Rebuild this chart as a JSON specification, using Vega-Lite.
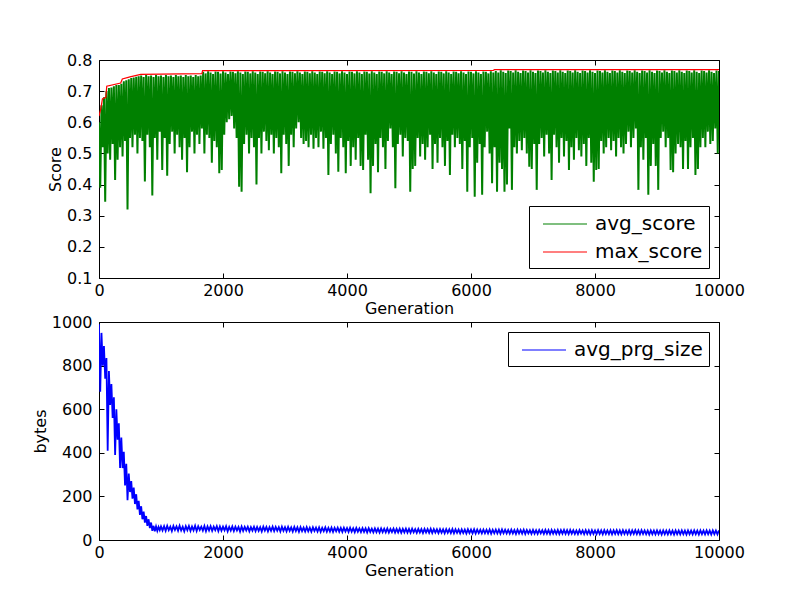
{
"$schema": "https://vega.github.io/schema/vega-lite/v6.json",
"padding": {"left": 31, "top": 51, "right": 10, "bottom": 10},
"background": "white",
"config": {
 "font": "DejaVu Sans",
 "view": {"stroke": "black", "strokeWidth": 1},
 "axis": {"grid": false, "domain": false, "tickColor": "black", "tickSize": -5, "labelFlush": false, "labelFont": "DejaVu Sans", "labelFontSize": 16, "labelColor": "black", "titleFont": "DejaVu Sans", "titleFontSize": 16, "titleFontWeight": "normal", "titleColor": "black"},
 "axisX": {"titlePadding": 2, "labelPadding": 9},
 "axisY": {"titlePadding": 3, "labelPadding": 12},
 "legend": {"strokeColor": "black", "fillColor": "white", "padding": 6, "offset": 10, "cornerRadius": 0, "symbolType": "M-2,0H2", "symbolSize": 484, "symbolStrokeWidth": 1.2, "symbolOffset": 18, "labelOffset": 18, "labelFont": "DejaVu Sans", "labelFontSize": 20, "labelColor": "black", "rowPadding": 6, "labelLimit": 300}
},
"datasets": {
"score": [{"g":0,"s":0.60},{"g":20,"s":0.39},{"g":40,"s":0.655},{"g":60,"s":0.52},{"g":80,"s":0.68},{"g":100,"s":0.345},{"g":120,"s":0.70},{"g":140,"s":0.50},{"g":160,"s":0.71},{"g":180,"s":0.48},{"g":200,"s":0.712},{"g":220,"s":0.53},{"g":240,"s":0.716},{"g":260,"s":0.415},{"g":280,"s":0.72},{"g":300,"s":0.48},{"g":320,"s":0.72},{"g":340,"s":0.52},{"g":360,"s":0.724},{"g":380,"s":0.49},{"g":400,"s":0.732},{"g":420,"s":0.54},{"g":440,"s":0.735},{"g":460,"s":0.32},{"g":480,"s":0.738},{"g":500,"s":0.55},{"g":520,"s":0.742},{"g":540,"s":0.52},{"g":560,"s":0.744},{"g":580,"s":0.56},{"g":600,"s":0.746},{"g":620,"s":0.50},{"g":640,"s":0.748},{"g":660,"s":0.55},{"g":680,"s":0.75},{"g":700,"s":0.54},{"g":720,"s":0.745},{"g":740,"s":0.41},{"g":760,"s":0.752},{"g":780,"s":0.56},{"g":800,"s":0.748},{"g":820,"s":0.52},{"g":840,"s":0.75},{"g":860,"s":0.365},{"g":880,"s":0.745},{"g":900,"s":0.55},{"g":920,"s":0.752},{"g":940,"s":0.48},{"g":960,"s":0.748},{"g":980,"s":0.57},{"g":1000,"s":0.75},{"g":1020,"s":0.447},{"g":1040,"s":0.745},{"g":1060,"s":0.55},{"g":1080,"s":0.752},{"g":1100,"s":0.428},{"g":1120,"s":0.748},{"g":1140,"s":0.53},{"g":1160,"s":0.75},{"g":1180,"s":0.57},{"g":1200,"s":0.745},{"g":1220,"s":0.50},{"g":1240,"s":0.752},{"g":1260,"s":0.56},{"g":1280,"s":0.748},{"g":1300,"s":0.52},{"g":1320,"s":0.75},{"g":1340,"s":0.48},{"g":1360,"s":0.745},{"g":1380,"s":0.55},{"g":1400,"s":0.752},{"g":1420,"s":0.44},{"g":1440,"s":0.748},{"g":1460,"s":0.52},{"g":1480,"s":0.75},{"g":1500,"s":0.57},{"g":1520,"s":0.745},{"g":1540,"s":0.50},{"g":1560,"s":0.752},{"g":1580,"s":0.56},{"g":1600,"s":0.748},{"g":1620,"s":0.53},{"g":1640,"s":0.75},{"g":1660,"s":0.58},{"g":1680,"s":0.762},{"g":1700,"s":0.50},{"g":1720,"s":0.757},{"g":1740,"s":0.56},{"g":1760,"s":0.764},{"g":1780,"s":0.55},{"g":1800,"s":0.76},{"g":1820,"s":0.47},{"g":1840,"s":0.755},{"g":1860,"s":0.54},{"g":1880,"s":0.763},{"g":1900,"s":0.52},{"g":1920,"s":0.762},{"g":1940,"s":0.436},{"g":1960,"s":0.757},{"g":1980,"s":0.447},{"g":2000,"s":0.764},{"g":2020,"s":0.56},{"g":2040,"s":0.76},{"g":2060,"s":0.60},{"g":2080,"s":0.755},{"g":2100,"s":0.61},{"g":2120,"s":0.763},{"g":2140,"s":0.62},{"g":2160,"s":0.762},{"g":2180,"s":0.58},{"g":2200,"s":0.757},{"g":2220,"s":0.55},{"g":2240,"s":0.764},{"g":2260,"s":0.393},{"g":2280,"s":0.76},{"g":2300,"s":0.377},{"g":2320,"s":0.755},{"g":2340,"s":0.53},{"g":2360,"s":0.763},{"g":2380,"s":0.56},{"g":2400,"s":0.762},{"g":2420,"s":0.50},{"g":2440,"s":0.757},{"g":2460,"s":0.55},{"g":2480,"s":0.764},{"g":2500,"s":0.52},{"g":2520,"s":0.76},{"g":2540,"s":0.40},{"g":2560,"s":0.755},{"g":2580,"s":0.55},{"g":2600,"s":0.763},{"g":2620,"s":0.50},{"g":2640,"s":0.762},{"g":2660,"s":0.57},{"g":2680,"s":0.757},{"g":2700,"s":0.54},{"g":2720,"s":0.764},{"g":2740,"s":0.51},{"g":2760,"s":0.76},{"g":2780,"s":0.56},{"g":2800,"s":0.755},{"g":2820,"s":0.50},{"g":2840,"s":0.763},{"g":2860,"s":0.55},{"g":2880,"s":0.762},{"g":2900,"s":0.52},{"g":2920,"s":0.757},{"g":2940,"s":0.436},{"g":2960,"s":0.764},{"g":2980,"s":0.56},{"g":3000,"s":0.76},{"g":3020,"s":0.53},{"g":3040,"s":0.755},{"g":3060,"s":0.46},{"g":3080,"s":0.763},{"g":3100,"s":0.56},{"g":3120,"s":0.762},{"g":3140,"s":0.52},{"g":3160,"s":0.757},{"g":3180,"s":0.58},{"g":3200,"s":0.764},{"g":3220,"s":0.60},{"g":3240,"s":0.76},{"g":3260,"s":0.55},{"g":3280,"s":0.755},{"g":3300,"s":0.53},{"g":3320,"s":0.763},{"g":3340,"s":0.54},{"g":3360,"s":0.762},{"g":3380,"s":0.52},{"g":3400,"s":0.757},{"g":3420,"s":0.56},{"g":3440,"s":0.764},{"g":3460,"s":0.515},{"g":3480,"s":0.76},{"g":3500,"s":0.55},{"g":3520,"s":0.755},{"g":3540,"s":0.52},{"g":3560,"s":0.763},{"g":3580,"s":0.57},{"g":3600,"s":0.762},{"g":3620,"s":0.515},{"g":3640,"s":0.757},{"g":3660,"s":0.55},{"g":3680,"s":0.764},{"g":3700,"s":0.431},{"g":3720,"s":0.76},{"g":3740,"s":0.53},{"g":3760,"s":0.755},{"g":3780,"s":0.56},{"g":3800,"s":0.763},{"g":3820,"s":0.50},{"g":3840,"s":0.762},{"g":3860,"s":0.441},{"g":3880,"s":0.757},{"g":3900,"s":0.55},{"g":3920,"s":0.764},{"g":3940,"s":0.52},{"g":3960,"s":0.76},{"g":3980,"s":0.436},{"g":4000,"s":0.755},{"g":4020,"s":0.54},{"g":4040,"s":0.763},{"g":4060,"s":0.46},{"g":4080,"s":0.762},{"g":4100,"s":0.52},{"g":4120,"s":0.757},{"g":4140,"s":0.48},{"g":4160,"s":0.764},{"g":4180,"s":0.55},{"g":4200,"s":0.76},{"g":4220,"s":0.46},{"g":4240,"s":0.755},{"g":4260,"s":0.447},{"g":4280,"s":0.763},{"g":4300,"s":0.56},{"g":4320,"s":0.762},{"g":4340,"s":0.48},{"g":4360,"s":0.757},{"g":4380,"s":0.372},{"g":4400,"s":0.764},{"g":4420,"s":0.46},{"g":4440,"s":0.76},{"g":4460,"s":0.53},{"g":4480,"s":0.755},{"g":4500,"s":0.44},{"g":4520,"s":0.763},{"g":4540,"s":0.55},{"g":4560,"s":0.762},{"g":4580,"s":0.52},{"g":4600,"s":0.757},{"g":4620,"s":0.45},{"g":4640,"s":0.764},{"g":4660,"s":0.54},{"g":4680,"s":0.76},{"g":4700,"s":0.58},{"g":4720,"s":0.755},{"g":4740,"s":0.52},{"g":4760,"s":0.763},{"g":4780,"s":0.388},{"g":4800,"s":0.762},{"g":4820,"s":0.53},{"g":4840,"s":0.757},{"g":4860,"s":0.56},{"g":4880,"s":0.764},{"g":4900,"s":0.49},{"g":4920,"s":0.76},{"g":4940,"s":0.55},{"g":4960,"s":0.755},{"g":4980,"s":0.54},{"g":5000,"s":0.763},{"g":5020,"s":0.377},{"g":5040,"s":0.762},{"g":5060,"s":0.45},{"g":5080,"s":0.757},{"g":5100,"s":0.46},{"g":5120,"s":0.764},{"g":5140,"s":0.55},{"g":5160,"s":0.76},{"g":5180,"s":0.49},{"g":5200,"s":0.755},{"g":5220,"s":0.53},{"g":5240,"s":0.763},{"g":5260,"s":0.48},{"g":5280,"s":0.762},{"g":5300,"s":0.52},{"g":5320,"s":0.757},{"g":5340,"s":0.56},{"g":5360,"s":0.764},{"g":5380,"s":0.45},{"g":5400,"s":0.76},{"g":5420,"s":0.53},{"g":5440,"s":0.755},{"g":5460,"s":0.47},{"g":5480,"s":0.763},{"g":5500,"s":0.55},{"g":5520,"s":0.762},{"g":5540,"s":0.52},{"g":5560,"s":0.757},{"g":5580,"s":0.46},{"g":5600,"s":0.764},{"g":5620,"s":0.54},{"g":5640,"s":0.76},{"g":5660,"s":0.431},{"g":5680,"s":0.755},{"g":5700,"s":0.56},{"g":5720,"s":0.763},{"g":5740,"s":0.52},{"g":5760,"s":0.762},{"g":5780,"s":0.55},{"g":5800,"s":0.757},{"g":5820,"s":0.53},{"g":5840,"s":0.764},{"g":5860,"s":0.45},{"g":5880,"s":0.76},{"g":5900,"s":0.54},{"g":5920,"s":0.755},{"g":5940,"s":0.377},{"g":5960,"s":0.763},{"g":5980,"s":0.52},{"g":6000,"s":0.762},{"g":6020,"s":0.55},{"g":6040,"s":0.757},{"g":6060,"s":0.361},{"g":6080,"s":0.764},{"g":6100,"s":0.47},{"g":6120,"s":0.76},{"g":6140,"s":0.53},{"g":6160,"s":0.755},{"g":6180,"s":0.367},{"g":6200,"s":0.763},{"g":6220,"s":0.52},{"g":6240,"s":0.762},{"g":6260,"s":0.57},{"g":6280,"s":0.757},{"g":6300,"s":0.50},{"g":6320,"s":0.764},{"g":6340,"s":0.404},{"g":6360,"s":0.76},{"g":6380,"s":0.52},{"g":6400,"s":0.765},{"g":6420,"s":0.377},{"g":6440,"s":0.76},{"g":6460,"s":0.47},{"g":6480,"s":0.767},{"g":6500,"s":0.45},{"g":6520,"s":0.762},{"g":6540,"s":0.377},{"g":6560,"s":0.758},{"g":6580,"s":0.40},{"g":6600,"s":0.766},{"g":6620,"s":0.58},{"g":6640,"s":0.765},{"g":6660,"s":0.383},{"g":6680,"s":0.76},{"g":6700,"s":0.52},{"g":6720,"s":0.767},{"g":6740,"s":0.50},{"g":6760,"s":0.762},{"g":6780,"s":0.54},{"g":6800,"s":0.758},{"g":6820,"s":0.51},{"g":6840,"s":0.766},{"g":6860,"s":0.55},{"g":6880,"s":0.765},{"g":6900,"s":0.50},{"g":6920,"s":0.76},{"g":6940,"s":0.457},{"g":6960,"s":0.767},{"g":6980,"s":0.45},{"g":7000,"s":0.762},{"g":7020,"s":0.53},{"g":7040,"s":0.758},{"g":7060,"s":0.383},{"g":7080,"s":0.766},{"g":7100,"s":0.53},{"g":7120,"s":0.765},{"g":7140,"s":0.55},{"g":7160,"s":0.76},{"g":7180,"s":0.49},{"g":7200,"s":0.767},{"g":7220,"s":0.56},{"g":7240,"s":0.762},{"g":7260,"s":0.50},{"g":7280,"s":0.758},{"g":7300,"s":0.415},{"g":7320,"s":0.766},{"g":7340,"s":0.56},{"g":7360,"s":0.765},{"g":7380,"s":0.52},{"g":7400,"s":0.76},{"g":7420,"s":0.47},{"g":7440,"s":0.767},{"g":7460,"s":0.55},{"g":7480,"s":0.762},{"g":7500,"s":0.49},{"g":7520,"s":0.758},{"g":7540,"s":0.54},{"g":7560,"s":0.766},{"g":7580,"s":0.447},{"g":7600,"s":0.765},{"g":7620,"s":0.52},{"g":7640,"s":0.76},{"g":7660,"s":0.48},{"g":7680,"s":0.767},{"g":7700,"s":0.55},{"g":7720,"s":0.762},{"g":7740,"s":0.51},{"g":7760,"s":0.758},{"g":7780,"s":0.49},{"g":7800,"s":0.766},{"g":7820,"s":0.53},{"g":7840,"s":0.765},{"g":7860,"s":0.46},{"g":7880,"s":0.76},{"g":7900,"s":0.55},{"g":7920,"s":0.767},{"g":7940,"s":0.47},{"g":7960,"s":0.762},{"g":7980,"s":0.409},{"g":8000,"s":0.758},{"g":8020,"s":0.447},{"g":8040,"s":0.766},{"g":8060,"s":0.45},{"g":8080,"s":0.765},{"g":8100,"s":0.54},{"g":8120,"s":0.76},{"g":8140,"s":0.50},{"g":8160,"s":0.767},{"g":8180,"s":0.52},{"g":8200,"s":0.762},{"g":8220,"s":0.55},{"g":8240,"s":0.758},{"g":8260,"s":0.51},{"g":8280,"s":0.766},{"g":8300,"s":0.54},{"g":8320,"s":0.765},{"g":8340,"s":0.49},{"g":8360,"s":0.76},{"g":8380,"s":0.55},{"g":8400,"s":0.767},{"g":8420,"s":0.52},{"g":8440,"s":0.762},{"g":8460,"s":0.50},{"g":8480,"s":0.758},{"g":8500,"s":0.53},{"g":8520,"s":0.766},{"g":8540,"s":0.57},{"g":8560,"s":0.765},{"g":8580,"s":0.52},{"g":8600,"s":0.76},{"g":8620,"s":0.55},{"g":8640,"s":0.767},{"g":8660,"s":0.58},{"g":8680,"s":0.762},{"g":8700,"s":0.383},{"g":8720,"s":0.758},{"g":8740,"s":0.52},{"g":8760,"s":0.766},{"g":8780,"s":0.48},{"g":8800,"s":0.765},{"g":8820,"s":0.55},{"g":8840,"s":0.76},{"g":8860,"s":0.367},{"g":8880,"s":0.767},{"g":8900,"s":0.46},{"g":8920,"s":0.762},{"g":8940,"s":0.53},{"g":8960,"s":0.758},{"g":8980,"s":0.46},{"g":9000,"s":0.766},{"g":9020,"s":0.383},{"g":9040,"s":0.765},{"g":9060,"s":0.55},{"g":9080,"s":0.76},{"g":9100,"s":0.57},{"g":9120,"s":0.767},{"g":9140,"s":0.52},{"g":9160,"s":0.762},{"g":9180,"s":0.55},{"g":9200,"s":0.758},{"g":9220,"s":0.447},{"g":9240,"s":0.766},{"g":9260,"s":0.44},{"g":9280,"s":0.765},{"g":9300,"s":0.50},{"g":9320,"s":0.76},{"g":9340,"s":0.53},{"g":9360,"s":0.767},{"g":9380,"s":0.52},{"g":9400,"s":0.762},{"g":9420,"s":0.45},{"g":9440,"s":0.758},{"g":9460,"s":0.54},{"g":9480,"s":0.766},{"g":9500,"s":0.45},{"g":9520,"s":0.765},{"g":9540,"s":0.52},{"g":9560,"s":0.76},{"g":9580,"s":0.55},{"g":9600,"s":0.767},{"g":9620,"s":0.431},{"g":9640,"s":0.762},{"g":9660,"s":0.45},{"g":9680,"s":0.758},{"g":9700,"s":0.52},{"g":9720,"s":0.766},{"g":9740,"s":0.55},{"g":9760,"s":0.765},{"g":9780,"s":0.52},{"g":9800,"s":0.76},{"g":9820,"s":0.57},{"g":9840,"s":0.767},{"g":9860,"s":0.53},{"g":9880,"s":0.762},{"g":9900,"s":0.54},{"g":9920,"s":0.758},{"g":9940,"s":0.58},{"g":9960,"s":0.766},{"g":9980,"s":0.50},{"g":10000,"s":0.765}],
"maxs": [{"g":0,"m":0.62},{"g":30,"m":0.645},{"g":55,"m":0.675},{"g":110,"m":0.68},{"g":125,"m":0.716},{"g":350,"m":0.726},{"g":376,"m":0.739},{"g":500,"m":0.746},{"g":672,"m":0.754},{"g":1660,"m":0.756},{"g":1670,"m":0.766},{"g":6360,"m":0.767},{"g":6380,"m":0.769},{"g":10000,"m":0.769}],
"prg": [{"g":0,"b":990},{"g":20,"b":680},{"g":40,"b":950},{"g":60,"b":800},{"g":80,"b":890},{"g":100,"b":740},{"g":120,"b":835},{"g":140,"b":410},{"g":160,"b":775},{"g":180,"b":620},{"g":200,"b":715},{"g":220,"b":560},{"g":240,"b":655},{"g":260,"b":390},{"g":280,"b":600},{"g":300,"b":460},{"g":320,"b":535},{"g":340,"b":330},{"g":360,"b":470},{"g":380,"b":330},{"g":400,"b":405},{"g":420,"b":250},{"g":440,"b":350},{"g":460,"b":183},{"g":480,"b":305},{"g":500,"b":220},{"g":520,"b":270},{"g":540,"b":190},{"g":560,"b":240},{"g":580,"b":165},{"g":600,"b":210},{"g":620,"b":140},{"g":640,"b":180},{"g":660,"b":115},{"g":680,"b":155},{"g":700,"b":95},{"g":720,"b":130},{"g":740,"b":80},{"g":760,"b":110},{"g":780,"b":65},{"g":800,"b":95},{"g":820,"b":55},{"g":840,"b":80},{"g":860,"b":42},{"g":880,"b":65},{"g":900,"b":40},{"g":920,"b":62},{"g":940,"b":42},{"g":960,"b":60},{"g":980,"b":45},{"g":1000,"b":62},
{"g":1025,"b":44},{"g":1050,"b":63},{"g":1075,"b":42},{"g":1100,"b":65},{"g":1125,"b":45},{"g":1150,"b":61},{"g":1175,"b":41},{"g":1200,"b":64},{"g":1225,"b":46},{"g":1250,"b":62},{"g":1275,"b":43},{"g":1300,"b":66},{"g":1325,"b":44},{"g":1350,"b":61},{"g":1375,"b":40},{"g":1400,"b":63},{"g":1425,"b":45},{"g":1450,"b":64},{"g":1475,"b":42},{"g":1500,"b":62},{"g":1525,"b":44},{"g":1550,"b":65},{"g":1575,"b":41},{"g":1600,"b":63},{"g":1625,"b":46},{"g":1650,"b":61},{"g":1675,"b":43},{"g":1700,"b":64},{"g":1725,"b":40},{"g":1750,"b":62},{"g":1775,"b":44},{"g":1800,"b":63},{"g":1825,"b":42},{"g":1850,"b":61},{"g":1875,"b":45},{"g":1900,"b":63},{"g":1925,"b":41},{"g":1950,"b":62},{"g":1975,"b":43},{"g":2000,"b":61},{"g":2025,"b":44},{"g":2050,"b":63},{"g":2075,"b":40},{"g":2100,"b":60},{"g":2125,"b":43},{"g":2150,"b":62},{"g":2175,"b":41},{"g":2200,"b":61},{"g":2225,"b":44},{"g":2250,"b":60},{"g":2275,"b":39},{"g":2300,"b":62},{"g":2325,"b":42},{"g":2350,"b":60},{"g":2375,"b":44},{"g":2400,"b":61},{"g":2425,"b":40},{"g":2450,"b":59},{"g":2475,"b":43},{"g":2500,"b":61},{"g":2525,"b":41},{"g":2550,"b":60},{"g":2575,"b":42},{"g":2600,"b":59},{"g":2625,"b":39},{"g":2650,"b":61},{"g":2675,"b":43},{"g":2700,"b":60},{"g":2725,"b":40},{"g":2750,"b":59},{"g":2775,"b":42},{"g":2800,"b":61},{"g":2825,"b":41},{"g":2850,"b":60},{"g":2875,"b":43},{"g":2900,"b":59},{"g":2925,"b":39},{"g":2950,"b":61},{"g":2975,"b":42},
{"g":3000,"b":59},{"g":3025,"b":40},{"g":3050,"b":60},{"g":3075,"b":42},{"g":3100,"b":58},{"g":3125,"b":39},{"g":3150,"b":60},{"g":3175,"b":41},{"g":3200,"b":58},{"g":3225,"b":38},{"g":3250,"b":59},{"g":3275,"b":41},{"g":3300,"b":57},{"g":3325,"b":39},{"g":3350,"b":59},{"g":3375,"b":40},{"g":3400,"b":57},{"g":3425,"b":38},{"g":3450,"b":58},{"g":3475,"b":41},{"g":3500,"b":57},{"g":3525,"b":39},{"g":3550,"b":58},{"g":3575,"b":37},{"g":3600,"b":56},{"g":3625,"b":40},{"g":3650,"b":58},{"g":3675,"b":38},{"g":3700,"b":56},{"g":3725,"b":39},{"g":3750,"b":57},{"g":3775,"b":37},{"g":3800,"b":56},{"g":3825,"b":40},{"g":3850,"b":57},{"g":3875,"b":38},{"g":3900,"b":55},{"g":3925,"b":37},{"g":3950,"b":56},{"g":3975,"b":39},
{"g":4000,"b":55},{"g":4025,"b":37},{"g":4050,"b":56},{"g":4075,"b":38},{"g":4100,"b":54},{"g":4125,"b":36},{"g":4150,"b":55},{"g":4175,"b":38},{"g":4200,"b":53},{"g":4225,"b":36},{"g":4250,"b":54},{"g":4275,"b":37},{"g":4300,"b":53},{"g":4325,"b":35},{"g":4350,"b":54},{"g":4375,"b":37},{"g":4400,"b":52},{"g":4425,"b":35},{"g":4450,"b":53},{"g":4475,"b":36},{"g":4500,"b":52},{"g":4525,"b":34},{"g":4550,"b":53},{"g":4575,"b":36},{"g":4600,"b":52},{"g":4625,"b":35},{"g":4650,"b":53},{"g":4675,"b":34},{"g":4700,"b":51},{"g":4725,"b":36},{"g":4750,"b":52},{"g":4775,"b":34},{"g":4800,"b":51},{"g":4825,"b":35},{"g":4850,"b":52},{"g":4875,"b":33},{"g":4900,"b":51},{"g":4925,"b":35},{"g":4950,"b":52},{"g":4975,"b":34},
{"g":5000,"b":51},{"g":5025,"b":33},{"g":5050,"b":52},{"g":5075,"b":35},{"g":5100,"b":50},{"g":5125,"b":33},{"g":5150,"b":51},{"g":5175,"b":34},{"g":5200,"b":50},{"g":5225,"b":32},{"g":5250,"b":51},{"g":5275,"b":34},{"g":5300,"b":50},{"g":5325,"b":33},{"g":5350,"b":51},{"g":5375,"b":32},{"g":5400,"b":50},{"g":5425,"b":34},{"g":5450,"b":49},{"g":5475,"b":32},{"g":5500,"b":50},{"g":5525,"b":33},{"g":5550,"b":49},{"g":5575,"b":31},{"g":5600,"b":50},{"g":5625,"b":33},{"g":5650,"b":49},{"g":5675,"b":32},{"g":5700,"b":50},{"g":5725,"b":31},{"g":5750,"b":49},{"g":5775,"b":33},{"g":5800,"b":48},{"g":5825,"b":31},{"g":5850,"b":49},{"g":5875,"b":32},{"g":5900,"b":48},{"g":5925,"b":30},{"g":5950,"b":49},{"g":5975,"b":32},
{"g":6000,"b":48},{"g":6025,"b":31},{"g":6050,"b":49},{"g":6075,"b":30},{"g":6100,"b":48},{"g":6125,"b":32},{"g":6150,"b":47},{"g":6175,"b":30},{"g":6200,"b":48},{"g":6225,"b":31},{"g":6250,"b":47},{"g":6275,"b":30},{"g":6300,"b":48},{"g":6325,"b":29},{"g":6350,"b":47},{"g":6375,"b":31},{"g":6400,"b":48},{"g":6425,"b":30},{"g":6450,"b":47},{"g":6475,"b":29},{"g":6500,"b":48},{"g":6525,"b":31},{"g":6550,"b":47},{"g":6575,"b":30},{"g":6600,"b":46},{"g":6625,"b":29},{"g":6650,"b":47},{"g":6675,"b":30},{"g":6700,"b":46},{"g":6725,"b":28},{"g":6750,"b":47},{"g":6775,"b":30},{"g":6800,"b":46},{"g":6825,"b":29},{"g":6850,"b":47},{"g":6875,"b":28},{"g":6900,"b":46},{"g":6925,"b":30},{"g":6950,"b":45},{"g":6975,"b":28},
{"g":7000,"b":46},{"g":7025,"b":29},{"g":7050,"b":45},{"g":7075,"b":28},{"g":7100,"b":46},{"g":7125,"b":30},{"g":7150,"b":45},{"g":7175,"b":28},{"g":7200,"b":46},{"g":7225,"b":29},{"g":7250,"b":45},{"g":7275,"b":27},{"g":7300,"b":46},{"g":7325,"b":29},{"g":7350,"b":45},{"g":7375,"b":28},{"g":7400,"b":46},{"g":7425,"b":27},{"g":7450,"b":45},{"g":7475,"b":29},{"g":7500,"b":46},{"g":7525,"b":28},{"g":7550,"b":45},{"g":7575,"b":27},{"g":7600,"b":46},{"g":7625,"b":29},{"g":7650,"b":45},{"g":7675,"b":28},{"g":7700,"b":44},{"g":7725,"b":27},{"g":7750,"b":45},{"g":7775,"b":29},{"g":7800,"b":44},{"g":7825,"b":27},{"g":7850,"b":45},{"g":7875,"b":28},{"g":7900,"b":44},{"g":7925,"b":26},{"g":7950,"b":45},{"g":7975,"b":28},
{"g":8000,"b":44},{"g":8025,"b":27},{"g":8050,"b":45},{"g":8075,"b":28},{"g":8100,"b":44},{"g":8125,"b":26},{"g":8150,"b":45},{"g":8175,"b":28},{"g":8200,"b":44},{"g":8225,"b":27},{"g":8250,"b":45},{"g":8275,"b":26},{"g":8300,"b":44},{"g":8325,"b":28},{"g":8350,"b":45},{"g":8375,"b":27},{"g":8400,"b":44},{"g":8425,"b":26},{"g":8450,"b":45},{"g":8475,"b":28},{"g":8500,"b":44},{"g":8525,"b":27},{"g":8550,"b":45},{"g":8575,"b":26},{"g":8600,"b":44},{"g":8625,"b":28},{"g":8650,"b":45},{"g":8675,"b":27},{"g":8700,"b":44},{"g":8725,"b":26},{"g":8750,"b":45},{"g":8775,"b":28},{"g":8800,"b":44},{"g":8825,"b":27},{"g":8850,"b":43},{"g":8875,"b":25},{"g":8900,"b":44},{"g":8925,"b":27},{"g":8950,"b":43},{"g":8975,"b":26},
{"g":9000,"b":44},{"g":9025,"b":27},{"g":9050,"b":43},{"g":9075,"b":25},{"g":9100,"b":44},{"g":9125,"b":27},{"g":9150,"b":43},{"g":9175,"b":26},{"g":9200,"b":44},{"g":9225,"b":27},{"g":9250,"b":43},{"g":9275,"b":25},{"g":9300,"b":44},{"g":9325,"b":27},{"g":9350,"b":43},{"g":9375,"b":26},{"g":9400,"b":44},{"g":9425,"b":27},{"g":9450,"b":43},{"g":9475,"b":25},{"g":9500,"b":44},{"g":9525,"b":27},{"g":9550,"b":43},{"g":9575,"b":26},{"g":9600,"b":44},{"g":9625,"b":27},{"g":9650,"b":43},{"g":9675,"b":25},{"g":9700,"b":44},{"g":9725,"b":27},{"g":9750,"b":43},{"g":9775,"b":26},{"g":9800,"b":44},{"g":9825,"b":27},{"g":9850,"b":43},{"g":9875,"b":25},{"g":9900,"b":44},{"g":9925,"b":27},{"g":9950,"b":43},{"g":9975,"b":26},{"g":10000,"b":44}]
},
"vconcat": [
 {
  "width": 620, "height": 218,
  "layer": [
   {
    "data": {"name": "score"},
    "mark": {"type": "line", "strokeWidth": 2, "clip": true},
    "encoding": {
     "x": {"field": "g", "type": "quantitative", "scale": {"domain": [0, 10000], "nice": false}, "axis": {"title": "Generation", "values": [0,2000,4000,6000,8000,10000], "format": "d"}},
     "y": {"field": "s", "type": "quantitative", "scale": {"domain": [0.1, 0.8], "nice": false, "zero": false}, "axis": {"title": "Score", "values": [0.1,0.2,0.3,0.4,0.5,0.6,0.7,0.8], "format": ".1f"}},
     "color": {"datum": "avg_score", "type": "nominal", "scale": {"domain": ["avg_score", "max_score"], "range": ["#008000", "#ff0000"]}, "legend": {"title": null, "orient": "bottom-right"}}
    }
   },
   {
    "data": {"name": "maxs"},
    "mark": {"type": "line", "strokeWidth": 1.2, "clip": true},
    "encoding": {
     "x": {"field": "g", "type": "quantitative", "axis": {"orient": "top", "labels": false, "title": null, "values": [0,2000,4000,6000,8000,10000]}},
     "y": {"field": "m", "type": "quantitative", "axis": {"orient": "right", "labels": false, "title": null, "values": [0.1,0.2,0.3,0.4,0.5,0.6,0.7,0.8]}},
     "color": {"datum": "max_score", "type": "nominal"}
    }
   }
  ],
  "resolve": {"axis": {"x": "independent", "y": "independent"}}
 },
 {
  "width": 620, "height": 218,
  "layer": [
   {
    "data": {"name": "prg"},
    "mark": {"type": "line", "strokeWidth": 1.8, "clip": true},
    "encoding": {
     "x": {"field": "g", "type": "quantitative", "scale": {"domain": [0, 10000], "nice": false}, "axis": {"title": "Generation", "values": [0,2000,4000,6000,8000,10000], "format": "d"}},
     "y": {"field": "b", "type": "quantitative", "scale": {"domain": [0, 1000], "nice": false}, "axis": {"title": "bytes", "values": [0,200,400,600,800,1000], "format": "d"}},
     "color": {"datum": "avg_prg_size", "type": "nominal", "scale": {"domain": ["avg_prg_size"], "range": ["#0000ff"]}, "legend": {"title": null, "orient": "top-right"}}
    }
   },
   {
    "data": {"name": "prg"},
    "mark": {"type": "line", "opacity": 0},
    "encoding": {
     "x": {"field": "g", "type": "quantitative", "axis": {"orient": "top", "labels": false, "title": null, "values": [0,2000,4000,6000,8000,10000]}},
     "y": {"field": "b", "type": "quantitative", "axis": {"orient": "right", "labels": false, "title": null, "values": [0,200,400,600,800,1000]}}
    }
   }
  ],
  "resolve": {"axis": {"x": "independent", "y": "independent"}}
 }
],
"spacing": 44,
"bounds": "flush",
"resolve": {"scale": {"color": "independent"}, "legend": {"color": "independent"}}
}
